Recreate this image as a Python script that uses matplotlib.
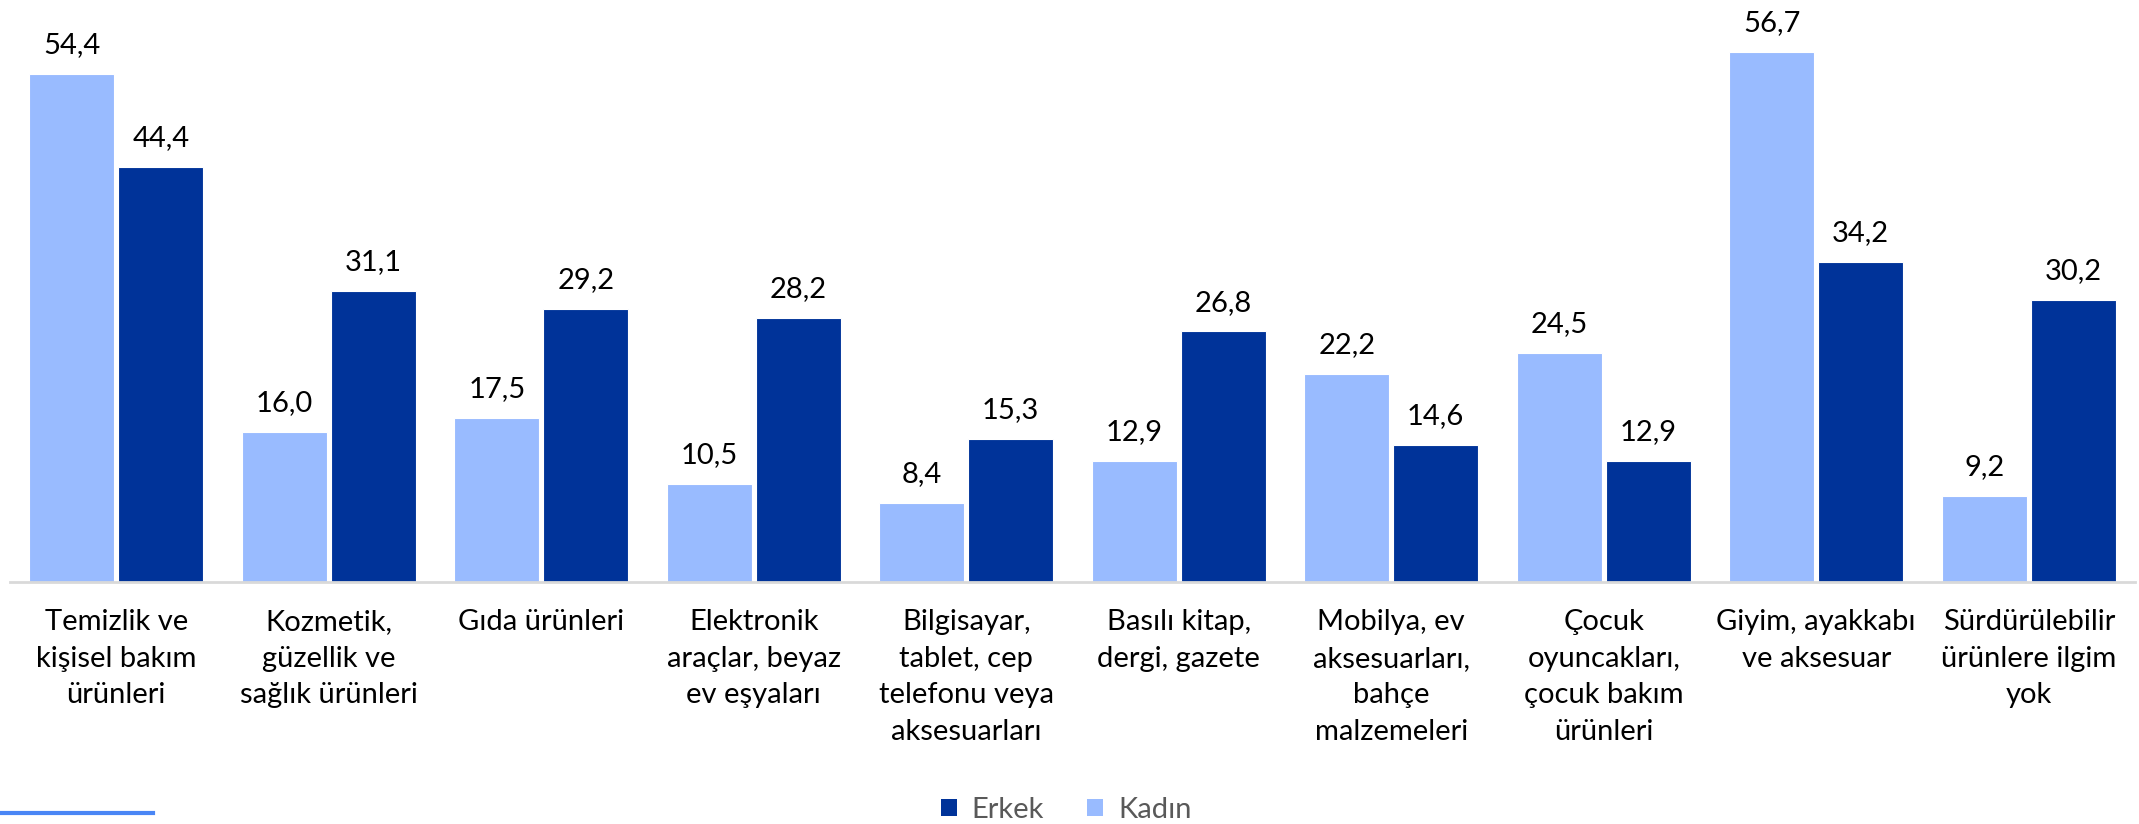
import matplotlib
matplotlib.use("Agg")
import matplotlib.pyplot as plt
import numpy as np
from matplotlib.patches import Patch
from matplotlib.lines import Line2D

categories = [
    "Temizlik ve\nkişisel bakım\nürünleri",
    "Kozmetik,\ngüzellik ve\nsağlık ürünleri",
    "Gıda ürünleri",
    "Elektronik\naraçlar, beyaz\nev eşyaları",
    "Bilgisayar,\ntablet, cep\ntelefonu veya\naksesuarları",
    "Basılı kitap,\ndergi, gazete",
    "Mobilya, ev\naksesuarları,\nbahçe\nmalzemeleri",
    "Çocuk\noyuncakları,\nçocuk bakım\nürünleri",
    "Giyim, ayakkabı\nve aksesuar",
    "Sürdürülebilir\nürünlere ilgim\nyok",
]
kadin = [54.4, 16.0, 17.5, 10.5, 8.4, 12.9, 22.2, 24.5, 56.7, 9.2]
erkek = [44.4, 31.1, 29.2, 28.2, 15.3, 26.8, 14.6, 12.9, 34.2, 30.2]

light = "#99BBFF"
dark = "#003399"
FONT = ["Lato", "DejaVu Sans"]
plt.rcParams["font.family"] = FONT

W, H = 2139, 824
fig = plt.figure(figsize=(W / 100, H / 100), dpi=100)
ax = fig.add_axes([10 / W, (H - 581.7) / H, 2125 / W, 560 / H])

x = np.arange(len(categories))
off = 0.2094
bw = 0.4
ax.bar(x - off, kadin, bw, color=light, edgecolor="white", linewidth=0.8, zorder=2)
ax.bar(x + off, erkek, bw, color=dark, edgecolor="white", linewidth=0.8, zorder=2)

ylim_top = 560 / 9.34
ax.set_xlim(-0.5, len(categories) - 0.5)
ax.set_ylim(0, ylim_top)

def fmt(v):
    return f"{v:.1f}".replace(".", ",")

FS = 21
for xi, v in zip(x - off, kadin):
    ax.annotate(fmt(v), (xi, v), xytext=(0, 15), textcoords="offset points",
                ha="center", va="baseline", fontsize=FS, color="#000000")
for xi, v in zip(x + off, erkek):
    ax.annotate(fmt(v), (xi, v), xytext=(0, 15), textcoords="offset points",
                ha="center", va="baseline", fontsize=FS, color="#000000")

for s in ["top", "right", "left"]:
    ax.spines[s].set_visible(False)
ax.spines["bottom"].set_color("#D9D9D9")
ax.spines["bottom"].set_linewidth(2)
ax.set_yticks([])
ax.set_xticks(x)
ax.set_xticklabels(categories, fontsize=FS, linespacing=1.5, color="#000000")
ax.tick_params(axis="x", length=0, pad=20)

handles = [Patch(facecolor=dark, label="Erkek"), Patch(facecolor=light, label="Kadın")]
fig.legend(handles=handles, loc="center", bbox_to_anchor=(1066 / W, 1 - 810 / H),
           ncol=2, frameon=False, fontsize=FS, labelcolor="#595959",
           handlelength=0.55, handleheight=0.55, handletextpad=0.5, columnspacing=1.5)

fig.add_artist(Line2D([0, 153 / W], [1 - 813 / H, 1 - 813 / H], color="#4A86F5",
                      linewidth=3, transform=fig.transFigure))

fig.savefig("out.png", dpi=100)
